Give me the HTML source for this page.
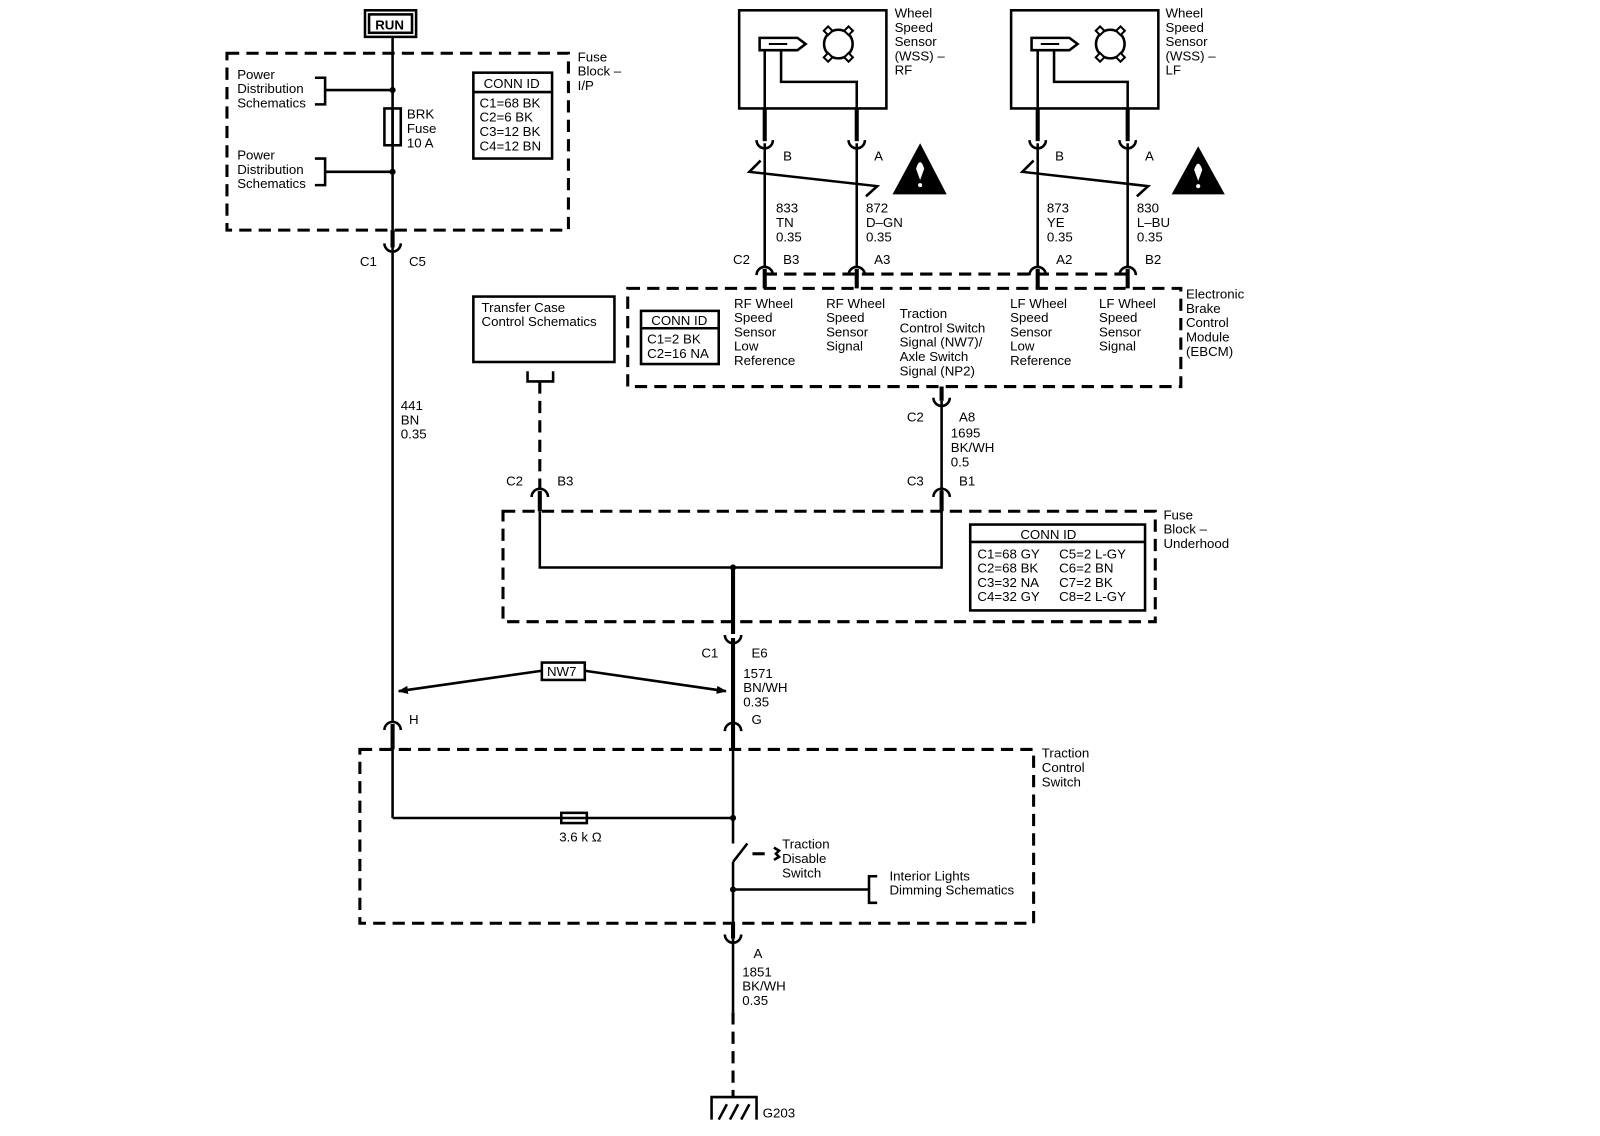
<!DOCTYPE html>
<html><head><meta charset="utf-8"><style>
html,body{margin:0;padding:0;background:#fff;}
svg{display:block;}
text{font-family:"Liberation Sans",Arial,sans-serif;font-size:13px;fill:#000;}
.w{stroke:#000;stroke-width:2.5;fill:none;}
.t{stroke:#000;stroke-width:4;fill:none;}
.d{stroke:#000;stroke-width:3;fill:none;stroke-dasharray:12 7;}
.b{stroke:#000;stroke-width:2.5;fill:none;}
</style></head><body>
<svg width="1600" height="1136" viewBox="0 0 1565 1111" xmlns="http://www.w3.org/2000/svg">
<defs>
<marker id="ah" markerWidth="10" markerHeight="8" refX="9" refY="4" orient="auto" markerUnits="userSpaceOnUse"><path d="M0,0 L10,4 L0,8 Z" fill="#000"/></marker>
</defs>
<!-- RUN -->
<rect x="357" y="10" width="50" height="26" class="b" stroke-width="3"/>
<rect x="361" y="14" width="42" height="18" class="b" stroke-width="1.5"/>
<text x="367" y="29" font-weight="bold">RUN</text>
<!-- main wire -->
<line x1="384" y1="36" x2="384" y2="225" class="w"/>
<line x1="384" y1="225" x2="384" y2="242" class="t"/>
<path d="M376,238 A8,8 0 0 0 392,238" class="w"/>
<line x1="384" y1="242" x2="384" y2="705" class="w"/>
<path d="M376,714 A8,8 0 0 1 392,714" class="w"/>
<line x1="384" y1="708" x2="384" y2="733" class="t"/>
<line x1="384" y1="733" x2="384" y2="800" class="w"/>
<!-- fuse block IP -->
<rect x="222" y="52" width="334" height="173" class="d"/>
<text x="565" y="60">Fuse</text><text x="565" y="74">Block –</text><text x="565" y="88">I/P</text>
<text x="232" y="77">Power</text><text x="232" y="91">Distribution</text><text x="232" y="105">Schematics</text>
<path d="M308,76 H318 V102 H308 M318,88 H384" class="b"/>
<circle cx="384" cy="88" r="3"/>
<text x="232" y="156">Power</text><text x="232" y="170">Distribution</text><text x="232" y="184">Schematics</text>
<path d="M308,155 H318 V181 H308 M318,168 H384" class="b"/>
<circle cx="384" cy="168" r="3"/>
<rect x="376" y="106" width="16" height="36" fill="#fff" class="b"/>
<line x1="384" y1="106" x2="384" y2="142" class="b" stroke-width="1.5"/>
<text x="398" y="116">BRK</text><text x="398" y="130">Fuse</text><text x="398" y="144">10 A</text>
<rect x="463" y="71" width="77" height="84" class="b"/>
<line x1="463" y1="90" x2="540" y2="90" class="b"/>
<text x="473" y="86">CONN ID</text>
<text x="469" y="105">C1=68 BK</text><text x="469" y="119">C2=6 BK</text><text x="469" y="133">C3=12 BK</text><text x="469" y="147">C4=12 BN</text>
<text x="352" y="260">C1</text><text x="400" y="260">C5</text>
<text x="392" y="401">441</text><text x="392" y="415">BN</text><text x="392" y="429">0.35</text>
<!-- transfer case -->
<rect x="463" y="290" width="138" height="64" class="b"/>
<text x="471" y="305">Transfer Case</text><text x="471" y="319">Control Schematics</text>
<path d="M516,363 V373 H541 V363" class="b"/>
<line x1="528" y1="373" x2="528" y2="478" class="d"/>
<path d="M520,486 A8,8 0 0 1 536,486" class="w"/>
<line x1="528" y1="480" x2="528" y2="500" class="t"/>
<text x="495" y="475">C2</text><text x="545" y="475">B3</text>
<!-- fuse block underhood -->
<rect x="492" y="500" width="638" height="108" class="d"/>
<text x="1138" y="508">Fuse</text><text x="1138" y="522">Block –</text><text x="1138" y="536">Underhood</text>
<path d="M528,500 V555 H921 V500" class="w"/>
<circle cx="717" cy="555" r="3"/>
<line x1="717" y1="555" x2="717" y2="620" class="t"/>
<rect x="949" y="513" width="171" height="84" class="b"/>
<line x1="949" y1="530" x2="1120" y2="530" class="b"/>
<text x="998" y="527">CONN ID</text>
<text x="956" y="546">C1=68 GY</text><text x="1036" y="546">C5=2 L-GY</text>
<text x="956" y="560">C2=68 BK</text><text x="1036" y="560">C6=2 BN</text>
<text x="956" y="574">C3=32 NA</text><text x="1036" y="574">C7=2 BK</text>
<text x="956" y="588">C4=32 GY</text><text x="1036" y="588">C8=2 L-GY</text>
<!-- C3 B1 / C2 A8 -->
<line x1="921" y1="378" x2="921" y2="392" class="t"/>
<path d="M913,389 A8,8 0 0 0 929,389" class="w"/>
<line x1="921" y1="392" x2="921" y2="482" class="w"/>
<path d="M913,486 A8,8 0 0 1 929,486" class="w"/>
<line x1="921" y1="480" x2="921" y2="500" class="t"/>
<text x="887" y="412">C2</text><text x="938" y="412">A8</text>
<text x="930" y="428">1695</text><text x="930" y="442">BK/WH</text><text x="930" y="456">0.5</text>
<text x="887" y="475">C3</text><text x="938" y="475">B1</text>
<!-- EBCM -->
<rect x="614" y="282" width="541" height="96" class="d"/>
<text x="1160" y="292">Electronic</text><text x="1160" y="306">Brake</text><text x="1160" y="320">Control</text><text x="1160" y="334">Module</text><text x="1160" y="348">(EBCM)</text>
<rect x="627" y="304" width="76" height="52" class="b"/>
<line x1="627" y1="321" x2="703" y2="321" class="b"/>
<text x="637" y="318">CONN ID</text>
<text x="633" y="336">C1=2 BK</text><text x="633" y="350">C2=16 NA</text>
<text x="718" y="301">RF Wheel</text><text x="718" y="315">Speed</text><text x="718" y="329">Sensor</text><text x="718" y="343">Low</text><text x="718" y="357">Reference</text>
<text x="808" y="301">RF Wheel</text><text x="808" y="315">Speed</text><text x="808" y="329">Sensor</text><text x="808" y="343">Signal</text>
<text x="880" y="311">Traction</text><text x="880" y="325">Control Switch</text><text x="880" y="339">Signal (NW7)/</text><text x="880" y="353">Axle Switch</text><text x="880" y="367">Signal (NP2)</text>
<text x="988" y="301">LF Wheel</text><text x="988" y="315">Speed</text><text x="988" y="329">Sensor</text><text x="988" y="343">Low</text><text x="988" y="357">Reference</text>
<text x="1075" y="301">LF Wheel</text><text x="1075" y="315">Speed</text><text x="1075" y="329">Sensor</text><text x="1075" y="343">Signal</text>
<line x1="748" y1="268" x2="1103" y2="268" class="d" stroke-width="2.5" stroke-dasharray="6 5"/>
<text x="717" y="258">C2</text><text x="766" y="258">B3</text><text x="855" y="258">A3</text><text x="1033" y="258">A2</text><text x="1120" y="258">B2</text>
<!-- sensors -->
<g id="rf">
<rect x="723" y="10" width="144" height="96" class="b"/>
<path d="M743,37 H780 L788,43 L780,49 H743 Z" class="b" stroke-width="2"/>
<line x1="752" y1="43" x2="770" y2="43" stroke="#000" stroke-width="2"/>
<circle cx="820" cy="43" r="14" class="b"/>
<g fill="#fff" stroke="#000" stroke-width="2"><rect x="807" y="27" width="6" height="6" transform="rotate(45 810 30)"/><rect x="827" y="27" width="6" height="6" transform="rotate(45 830 30)"/><rect x="807" y="53" width="6" height="6" transform="rotate(45 810 56)"/><rect x="827" y="53" width="6" height="6" transform="rotate(45 830 56)"/></g>
<path d="M748,49 V106" class="w"/><line x1="748" y1="106" x2="748" y2="138" class="t"/>
<path d="M764,49 V80 H838 V106" class="w"/><line x1="838" y1="106" x2="838" y2="138" class="t"/>
<path d="M740,137 A8,8 0 0 0 756,137" class="w"/><path d="M830,137 A8,8 0 0 0 846,137" class="w"/>
<line x1="748" y1="140" x2="748" y2="262" class="w"/><line x1="838" y1="140" x2="838" y2="262" class="w"/>
<path d="M740,269 A8,8 0 0 1 756,269" class="w"/><path d="M830,269 A8,8 0 0 1 846,269" class="w"/>
<line x1="748" y1="263" x2="748" y2="282" class="t"/><line x1="838" y1="263" x2="838" y2="282" class="t"/>
<path d="M744,157 L733,168 L858,182 L847,192" class="b" stroke-width="2"/>
<path d="M873,190 L900,140 L926,190 Z" fill="#000"/>
<path d="M896,165 Q900,152 904,165 L900,176 Z" fill="#fff"/><circle cx="900" cy="181" r="2" fill="#fff"/>
</g>
<g transform="translate(266,0)">
<rect x="723" y="10" width="144" height="96" class="b"/>
<path d="M743,37 H780 L788,43 L780,49 H743 Z" class="b" stroke-width="2"/>
<line x1="752" y1="43" x2="770" y2="43" stroke="#000" stroke-width="2"/>
<circle cx="820" cy="43" r="14" class="b"/>
<g fill="#fff" stroke="#000" stroke-width="2"><rect x="807" y="27" width="6" height="6" transform="rotate(45 810 30)"/><rect x="827" y="27" width="6" height="6" transform="rotate(45 830 30)"/><rect x="807" y="53" width="6" height="6" transform="rotate(45 810 56)"/><rect x="827" y="53" width="6" height="6" transform="rotate(45 830 56)"/></g>
<path d="M749,49 V106" class="w"/><line x1="749" y1="106" x2="749" y2="138" class="t"/>
<path d="M765,49 V80 H837 V106" class="w"/><line x1="837" y1="106" x2="837" y2="138" class="t"/>
<path d="M741,137 A8,8 0 0 0 757,137" class="w"/><path d="M829,137 A8,8 0 0 0 845,137" class="w"/>
<line x1="749" y1="140" x2="749" y2="262" class="w"/><line x1="837" y1="140" x2="837" y2="262" class="w"/>
<path d="M741,269 A8,8 0 0 1 757,269" class="w"/><path d="M829,269 A8,8 0 0 1 845,269" class="w"/>
<line x1="749" y1="263" x2="749" y2="282" class="t"/><line x1="837" y1="263" x2="837" y2="282" class="t"/>
<path d="M745,157 L734,168 L857,182 L846,192" class="b" stroke-width="2"/>
<path d="M880,190 L906,143 L932,190 Z" fill="#000"/>
<path d="M902,166 Q906,154 910,166 L906,177 Z" fill="#fff"/><circle cx="906" cy="182" r="2" fill="#fff"/>
</g>
<text x="875" y="17">Wheel</text><text x="875" y="31">Speed</text><text x="875" y="45">Sensor</text><text x="875" y="59">(WSS) –</text><text x="875" y="73">RF</text>
<text x="1140" y="17">Wheel</text><text x="1140" y="31">Speed</text><text x="1140" y="45">Sensor</text><text x="1140" y="59">(WSS) –</text><text x="1140" y="73">LF</text>
<text x="766" y="157">B</text><text x="855" y="157">A</text><text x="1032" y="157">B</text><text x="1120" y="157">A</text>
<text x="759" y="208">833</text><text x="759" y="222">TN</text><text x="759" y="236">0.35</text>
<text x="847" y="208">872</text><text x="847" y="222">D–GN</text><text x="847" y="236">0.35</text>
<text x="1024" y="208">873</text><text x="1024" y="222">YE</text><text x="1024" y="236">0.35</text>
<text x="1112" y="208">830</text><text x="1112" y="222">L–BU</text><text x="1112" y="236">0.35</text>
<!-- C1 E6 / G -->
<path d="M709,621 A8,8 0 0 0 725,621" class="w"/>
<line x1="717" y1="624" x2="717" y2="708" class="t"/>
<path d="M709,715 A8,8 0 0 1 725,715" class="w"/>
<line x1="717" y1="708" x2="717" y2="733" class="t"/>
<text x="686" y="643">C1</text><text x="735" y="643">E6</text>
<text x="727" y="663">1571</text><text x="727" y="677">BN/WH</text><text x="727" y="691">0.35</text>
<text x="400" y="708">H</text><text x="735" y="708">G</text>
<!-- NW7 -->
<rect x="530" y="648" width="42" height="17" class="b"/>
<text x="535" y="661">NW7</text>
<line x1="530" y1="656" x2="390" y2="676" class="b" stroke-width="2" marker-end="url(#ah)"/>
<line x1="572" y1="656" x2="710" y2="676" class="b" stroke-width="2" marker-end="url(#ah)"/>
<!-- traction control switch -->
<rect x="352" y="733" width="659" height="170" class="d"/>
<text x="1019" y="741">Traction</text><text x="1019" y="755">Control</text><text x="1019" y="769">Switch</text>
<path d="M384,800 H717" class="w"/>
<rect x="549" y="795" width="25" height="10" fill="#fff" class="b" stroke-width="2"/>
<text x="547" y="823">3.6 k Ω</text>
<circle cx="717" cy="800" r="3"/>
<line x1="717" y1="733" x2="717" y2="825" class="w"/>
<line x1="717" y1="843" x2="731" y2="825" class="w"/>
<line x1="736" y1="835" x2="754" y2="835" class="d" stroke-width="2" stroke-dasharray="6 4"/>
<path d="M757,829 L762,832 L759,835 L762,838 L757,841" class="b" stroke-width="2"/>
<text x="765" y="830">Traction</text><text x="765" y="844">Disable</text><text x="765" y="858">Switch</text>
<line x1="717" y1="843" x2="717" y2="903" class="w"/>
<circle cx="717" cy="870" r="3"/>
<path d="M717,870 H850 M858,857 H850 V883 H858" class="b"/>
<text x="870" y="861">Interior Lights</text><text x="870" y="875">Dimming Schematics</text>
<!-- A / ground -->
<line x1="717" y1="903" x2="717" y2="918" class="t"/>
<path d="M709,914 A8,8 0 0 0 725,914" class="w"/>
<line x1="717" y1="918" x2="717" y2="990" class="w"/>
<line x1="717" y1="990" x2="717" y2="1072" class="d" stroke-width="2.5"/>
<text x="737" y="937">A</text>
<text x="726" y="955">1851</text><text x="726" y="969">BK/WH</text><text x="726" y="983">0.35</text>
<path d="M696,1095 V1073 H740 V1095" class="b"/>
<path d="M703,1095 L711,1080 M714,1095 L722,1080 M725,1095 L733,1080" class="b" stroke-width="2"/>
<text x="746" y="1093">G203</text>
</svg>
</body></html>
